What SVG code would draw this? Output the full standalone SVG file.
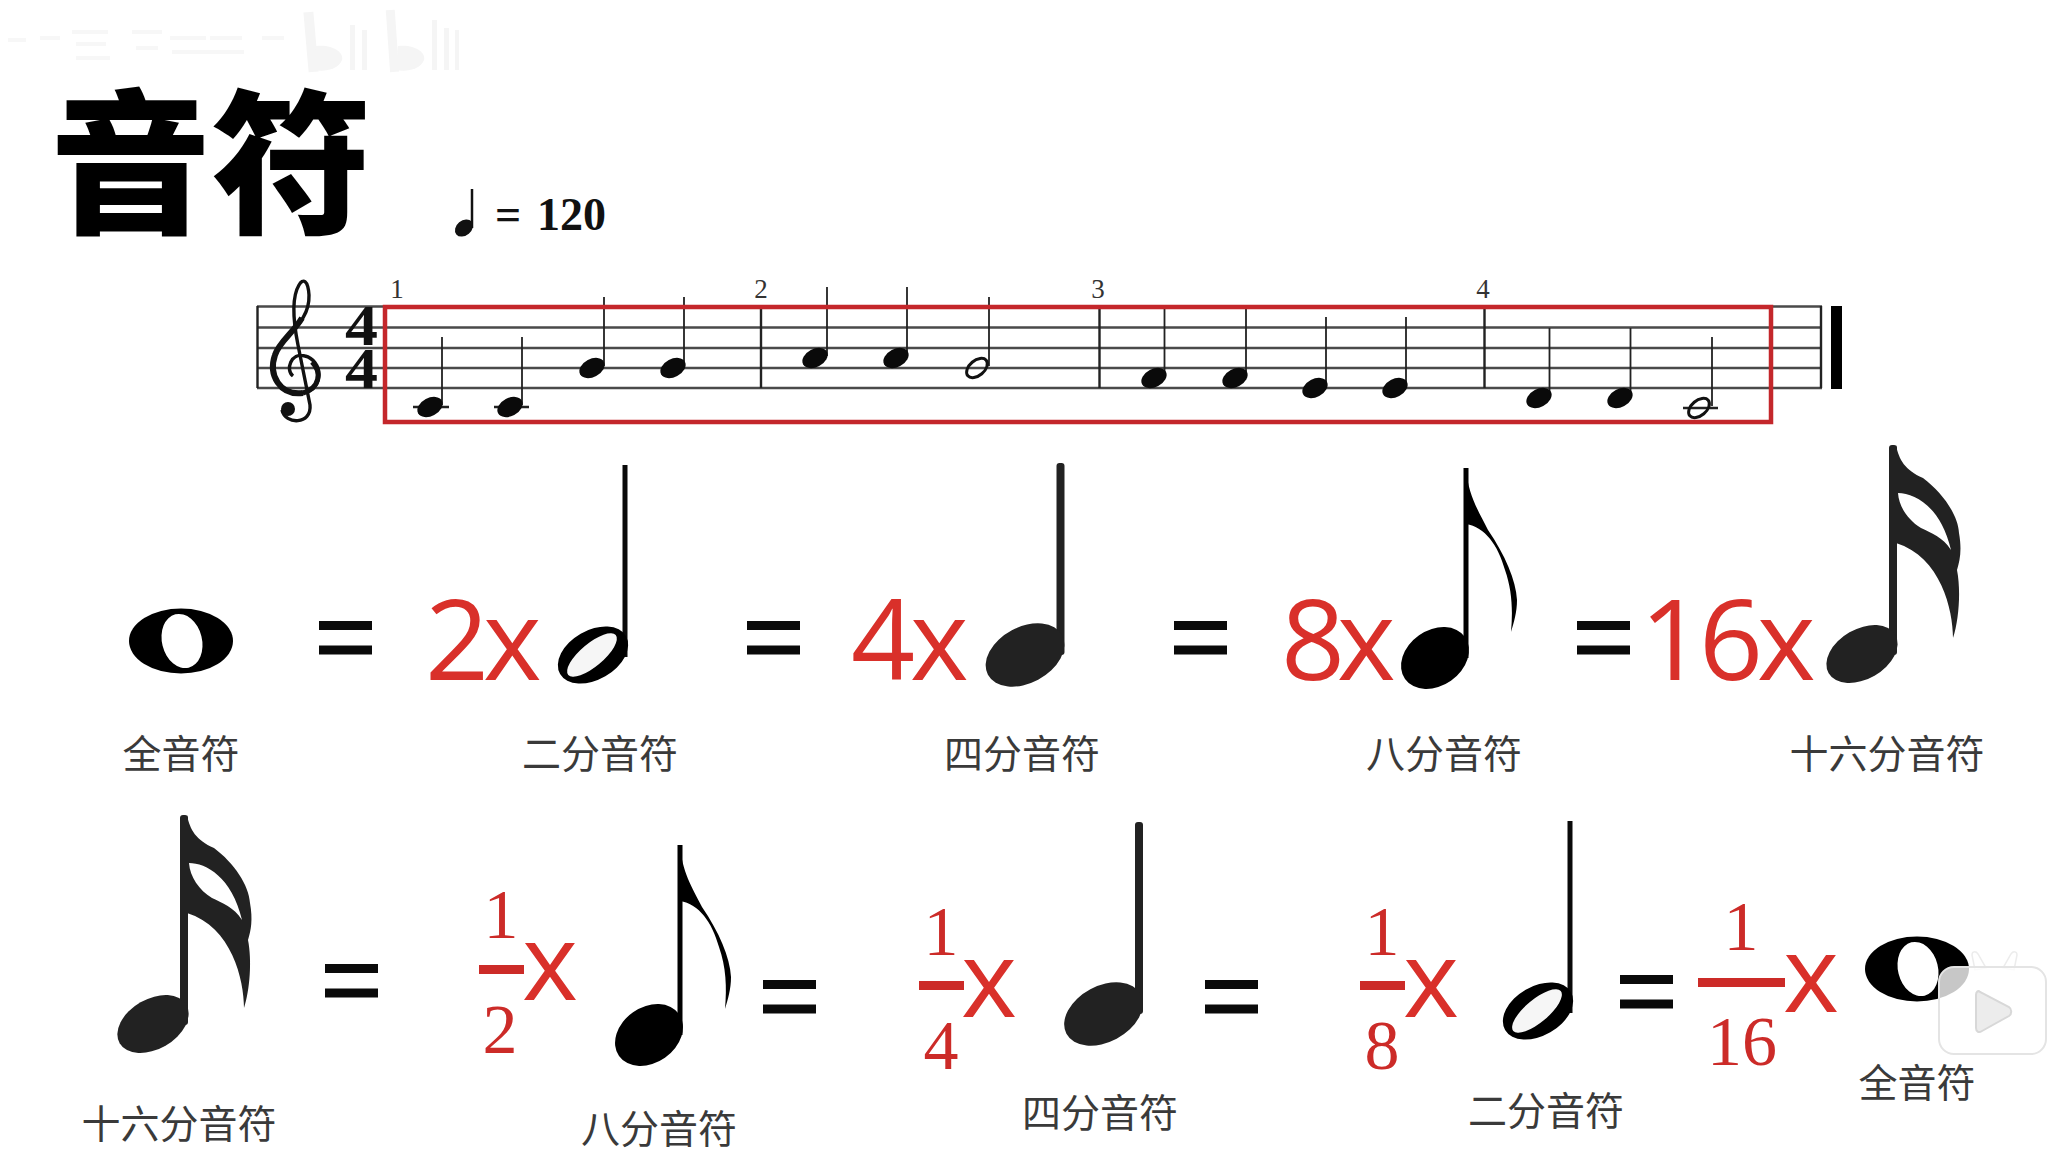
<svg xmlns="http://www.w3.org/2000/svg" xmlns:xlink="http://www.w3.org/1999/xlink" width="2070" height="1160" viewBox="0 0 2070 1160">
<style>
.title{font-family:"Noto Sans CJK SC",sans-serif;font-weight:900;font-size:161px;fill:#000}
.lab{font-family:"Noto Sans CJK SC",sans-serif;font-weight:400;font-size:39px;fill:#3a3a3a;text-anchor:middle}
.red{font-family:"Open Sans",sans-serif;font-size:112px;fill:#d9302a}
.redx{font-family:"Open Sans",sans-serif;font-size:107px;fill:#d9302a}
.frac{font-family:"Liberation Serif",serif;font-size:70px;fill:#cc2b28;text-anchor:middle}
.bar{fill:#cc2b28}
.num{font-family:"Liberation Serif",serif;font-size:27px;fill:#333;text-anchor:middle}
.ser{font-family:"Liberation Serif",serif;font-weight:bold;fill:#111}
.sl{stroke:#4a4a4a;stroke-width:2.5;fill:none}
.st{stroke:#222;stroke-width:1.8;fill:none}
.bl{stroke:#222;stroke-width:2.4;fill:none}
.led{stroke:#222;stroke-width:2.4;fill:none}
</style>
<defs>
<ellipse id="nh" rx="13.5" ry="9" transform="rotate(-28)" fill="#0a0a0a"/>
<g id="eq"><rect width="53" height="9" fill="#0a0a0a"/><rect y="24.5" width="53" height="9" fill="#0a0a0a"/></g>
<g id="whole">
<ellipse cx="181" cy="641" rx="52" ry="32.5" fill="#000"/>
<ellipse cx="182" cy="641" rx="20" ry="27.5" transform="rotate(-14 182 641)" fill="#fff"/>
</g>
<g id="half">
<rect x="622.5" y="465" width="5" height="192" fill="#0a0a0a"/>
<ellipse cx="593" cy="655" rx="38" ry="24.6" transform="rotate(-30 593 655)" fill="#000"/>
<ellipse cx="592" cy="655" rx="31" ry="11.5" transform="rotate(-40 592 655)" fill="#f6f6f6"/>
</g>
<g id="quarter" fill="#222">
<rect x="1056.5" y="463" width="8" height="192" rx="3"/>
<ellipse cx="1025" cy="655" rx="42" ry="28" transform="rotate(-28 1025 655)"/>
</g>
<g id="eighth" fill="#000">
<rect x="1463.5" y="468" width="5" height="190"/>
<ellipse cx="1435" cy="658" rx="36.6" ry="27.8" transform="rotate(-35 1435 658)"/>
<path d="M1466 468C1468 495 1478 510 1488 530C1505 555 1516 580 1517 600C1517 612 1514 622 1511 632C1513 610 1512 590 1505 570C1498 545 1485 527 1466 524Z"/>
</g>
<g id="sixteenth" fill="#222">
<rect x="-4" y="0" width="8" height="210" rx="3"/>
<ellipse cx="-31" cy="209" rx="38.5" ry="25" transform="rotate(-30 -31 209)"/>
<path fill-rule="evenodd" d="M3 0C6 15 12 25 30 33C50 48 65 70 66 88C69 105 67 115 64 125C68 145 66 175 60 193C60 165 48 112 3 98ZM5 48C22 48 48 62 58 105C50 92 38 88 28 83C15 75 6 62 5 48Z"/>
</g>
</defs>
<rect width="2070" height="1160" fill="#fff"/>

<g id="watermark" fill="#f5f5f5">
<rect x="306" y="12" width="10" height="60" transform="rotate(-5 311 42)"/>
<path d="M316 46C332 44 344 52 342 60C338 70 324 72 314 70Z"/>
<rect x="350" y="25" width="5" height="45"/><rect x="362" y="30" width="5" height="40"/>
<rect x="388" y="10" width="9" height="62" transform="rotate(-4 392 42)"/>
<path d="M398 46C414 44 426 52 424 60C420 70 406 72 396 70Z"/>
<rect x="432" y="20" width="5" height="50"/><rect x="444" y="28" width="5" height="42"/><rect x="455" y="30" width="4" height="40"/>
<g fill="#f7f7f7">
<rect x="8" y="38" width="18" height="4"/><rect x="40" y="36" width="20" height="4"/><rect x="72" y="30" width="36" height="4"/><rect x="76" y="42" width="30" height="4"/><rect x="76" y="56" width="34" height="4"/>
<rect x="132" y="30" width="30" height="4"/><rect x="136" y="46" width="22" height="4"/><rect x="170" y="36" width="36" height="4"/><rect x="172" y="50" width="36" height="4"/><rect x="210" y="36" width="32" height="4"/><rect x="208" y="50" width="36" height="4"/><rect x="262" y="36" width="22" height="4"/>
</g>
</g>

<text id="title" class="title" transform="translate(50,221) scale(1,0.96)">音符</text>

<g id="tempo">
<line x1="472" y1="189" x2="472" y2="228" stroke="#111" stroke-width="2.5"/>
<ellipse cx="464" cy="228" rx="10" ry="7.5" transform="rotate(-40 464 228)" fill="#111"/>
<text class="ser" x="495" y="230" font-size="46">=</text>
<text class="ser" x="537" y="230" font-size="46">120</text>
</g>

<g id="staff">
<path class="sl" d="M257 306.500H1822M257 327.500H1822M257 348H1822M257 368H1822M257 388H1822"/>
<path class="bl" d="M257.500 306V388M761 307V388M1099.500 307V388M1484.500 307V388M1821 306V388"/>
<rect x="1831" y="306" width="11" height="83" fill="#000"/>
<g id="clef" fill="none" stroke="#111">
<path d="M293 376C285 370 291 352 305 356C322 360 326 388 303 393C280 396 268 375 275 355C281 335 310 325 309 295C308 280 303 278 299 285C293 295 292 315 298 345L310 405C312 425 285 425 282 410" stroke-width="3.400"/>
<path d="M303 393C280 396 268 375 275 355C279 342 293 333 302 318" stroke-width="6"/>
<path d="M312 362C322 372 320 388 303 393" stroke-width="5"/>
<circle cx="288" cy="409" r="7" fill="#111" stroke="none"/>
</g>
<text id="timesig" class="ser" transform="translate(345,345) scale(1.2,1.02)" font-size="55"><tspan x="0" y="0">4</tspan><tspan x="0" y="42">4</tspan></text>
<g id="numbers">
<text class="num" x="397" y="298">1</text>
<text class="num" x="761" y="298">2</text>
<text class="num" x="1098" y="298">3</text>
<text class="num" x="1483" y="298">4</text>
</g>
<g id="staff-notes">
<path class="led" d="M413 407H449M494 407H529M1683 408H1718"/>
<path class="st" d="M442 337V405M522 337V405M604 297V366M684 297V366M827 287V356M907 287V356M989 297V366M1164.500 307V376M1246 307V376M1326 317V386M1406 317V386M1549.500 328V396M1630.500 328V396M1712 337V406"/>
<use href="#nh" x="430" y="407"/><use href="#nh" x="510" y="407"/><use href="#nh" x="592" y="368"/><use href="#nh" x="673" y="368"/>
<use href="#nh" x="815" y="358"/><use href="#nh" x="896" y="358"/>
<use href="#nh" x="1154" y="378"/><use href="#nh" x="1235" y="378"/><use href="#nh" x="1315" y="388"/><use href="#nh" x="1395" y="388"/>
<use href="#nh" x="1539" y="398"/><use href="#nh" x="1620" y="398"/>
<g fill="none" stroke="#111" stroke-width="3">
<ellipse cx="977" cy="368" rx="12" ry="7.500" transform="rotate(-40 977 368)"/>
<ellipse cx="1699" cy="408" rx="12" ry="7.500" transform="rotate(-40 1699 408)"/>
</g>
</g>
<rect id="selection" x="385" y="307" width="1386" height="115" fill="none" stroke="#c4272b" stroke-width="4.500"/>
</g>

<g id="row1">
<g id="r1-whole"><use href="#whole"/><text class="lab" x="181" y="768">全音符</text></g>
<use href="#eq" x="319" y="621"/>
<g id="r1-half"><text class="red" x="425 483" y="680">2x</text><use href="#half"/><text class="lab" x="600" y="768">二分音符</text></g>
<use href="#eq" x="747" y="621"/>
<g id="r1-quarter"><text class="red" x="851 910" y="680">4x</text><use href="#quarter"/><text class="lab" x="1022" y="768">四分音符</text></g>
<use href="#eq" x="1174" y="621"/>
<g id="r1-eighth"><text class="red" x="1281 1337" y="680">8x</text><use href="#eighth"/><text class="lab" x="1444" y="768">八分音符</text></g>
<use href="#eq" x="1577" y="621"/>
<g id="r1-sixteenth"><text class="red" x="1640 1699 1757" y="680">16x</text><use href="#sixteenth" x="1893" y="445"/><text class="lab" x="1887" y="768">十六分音符</text></g>
</g>

<g id="row2">
<g id="r2-sixteenth"><use href="#sixteenth" x="184" y="815"/><text class="lab" x="179" y="1138">十六分音符</text></g>
<use href="#eq" x="325" y="964"/>
<g id="r2-eighth">
<text class="frac" x="501" y="938">1</text><rect class="bar" x="479" y="965" width="45" height="9"/><text class="frac" x="500" y="1053">2</text>
<text class="redx" x="522" y="1000">x</text>
<use href="#eighth" x="-786" y="377"/><text class="lab" x="659" y="1143">八分音符</text>
</g>
<use href="#eq" x="763" y="980"/>
<g id="r2-quarter">
<text class="frac" x="941" y="955">1</text><rect class="bar" x="919" y="981" width="45" height="9"/><text class="frac" x="941" y="1069">4</text>
<text class="redx" x="961" y="1017">x</text>
<use href="#quarter" x="78.500" y="359"/><text class="lab" x="1100" y="1127">四分音符</text>
</g>
<use href="#eq" x="1205" y="980"/>
<g id="r2-half">
<text class="frac" x="1382" y="955">1</text><rect class="bar" x="1360" y="981" width="45" height="9"/><text class="frac" x="1382" y="1069">8</text>
<text class="redx" x="1403" y="1017">x</text>
<use href="#half" x="945" y="356"/><text class="lab" x="1546" y="1125">二分音符</text>
</g>
<use href="#eq" x="1620" y="975"/>
<g id="r2-whole">
<text class="frac" x="1741" y="950">1</text><rect class="bar" x="1698" y="978" width="87" height="9"/><text class="frac" x="1742" y="1065">16</text>
<text class="redx" x="1783" y="1012">x</text>
<use href="#whole" x="1736" y="328"/><text class="lab" x="1917" y="1097">全音符</text>
</g>
</g>

<g id="player-icon">
<path d="M1975 970L1972 955C1972 951 1976 951 1978 954L1986 968ZM2014 970L2017 955C2017 951 2013 951 2011 954L2003 968Z" fill="#fff" fill-opacity=".8" stroke="#ececec" stroke-width="1.500"/>
<rect x="1939" y="967" width="107" height="87" rx="15" fill="#fff" fill-opacity=".78" stroke="#e4e4e4" stroke-width="2"/>
<path d="M1980 992C1978 990 1976 992 1976 995V1028C1976 1032 1979 1033 1982 1031L2009 1016C2012 1014 2012 1009 2009 1007Z" fill="#ececec" stroke="#d8d8d8" stroke-width="2"/>
</g>
</svg>
